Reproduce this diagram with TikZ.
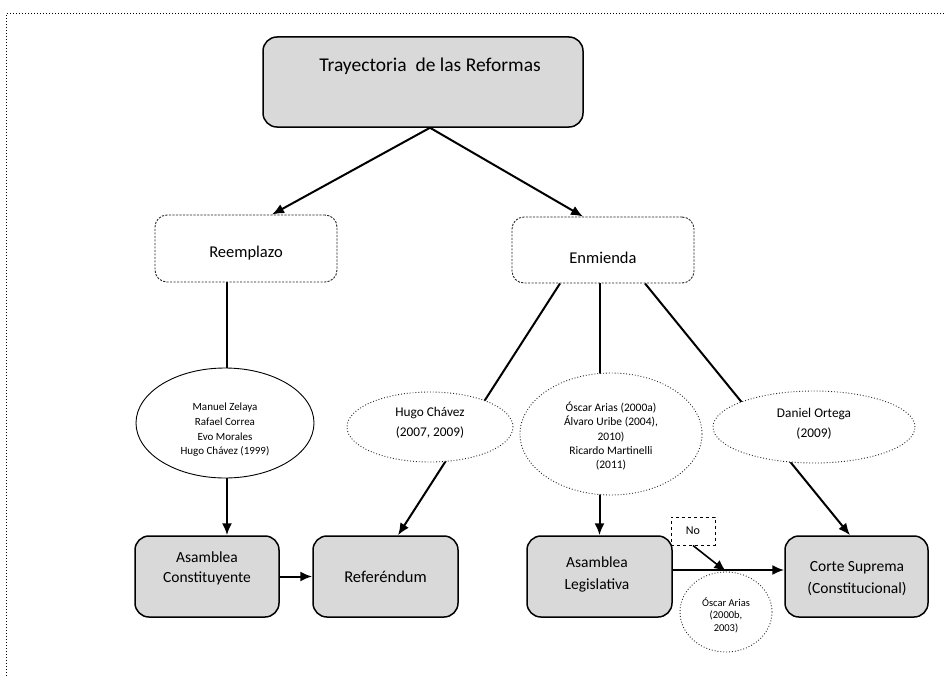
\documentclass[tikz,border=0pt]{standalone}
\usepackage{fontspec}
\setmainfont{Carlito}
\usetikzlibrary{shapes.geometric,arrows.meta,calc,backgrounds}
\begin{document}
\begin{tikzpicture}[x=1pt,y=-1pt,
  graybox/.style={draw=black,line width=1.5pt,fill=gray!30,rounded corners=14pt,inner sep=0pt},
  dashbox/.style={draw=black!85,line width=0.9pt,dash pattern=on 2.2pt off 1.3pt,rounded corners=12pt,inner sep=0pt},
  txt/.style={inner sep=0pt,align=center},
  boxtxt/.style={txt,font=\fontsize{15.5}{20}\selectfont},
  dotell/.style={ellipse,draw=black!85,line width=0.9pt,dotted,fill=white,inner sep=0pt,align=center},
  conn/.style={line width=2pt},
  arr/.style={line width=2pt,-{Latex[length=12pt,width=10pt]}}]
\useasboundingbox (0,0) rectangle (944,677);
\draw[line width=1pt,dotted] (944,14) -- (6,14) -- (6,677);
% nodes
\node[graybox,minimum width=320,minimum height=90] (title) at (423,82) {};
\node[txt,font=\fontsize{19.5}{22}\selectfont] (titletext) at (430,66) {Trayectoria~ de las Reformas};
\node[dashbox,minimum width=182,minimum height=67] (reem) at (246,248.5) {};
\node[txt,font=\fontsize{16.5}{20}\selectfont] (reemT) at (246,253) {Reemplazo};
\node[dashbox,minimum width=182,minimum height=66] (enm) at (603,250) {};
\node[txt,font=\fontsize{16.5}{20}\selectfont] (enmT) at (603,258) {Enmienda};
\node[ellipse,draw=black,line width=0.9pt,fill=white,inner sep=0pt,minimum width=178,minimum height=110] (manuel) at (225,423) {};
\node[txt,font=\fontsize{11}{14.7}\selectfont] (manuelT) at (225,430) {Manuel Zelaya\\Rafael Correa\\Evo Morales\\Hugo Chávez (1999)};
\node[dotell,minimum width=166,minimum height=70] (hugo) at (430,427) {};
\node[txt,font=\fontsize{13.3}{20.5}\selectfont] (hugoT) at (430,423) {Hugo Chávez\\(2007, 2009)};
\node[dotell,minimum width=182,minimum height=122] (oscar) at (611,434) {};
\node[txt,font=\fontsize{11.5}{14.3}\selectfont] (oscarT) at (611,436) {Óscar Arias (2000a)\\Álvaro Uribe (2004),\\2010)\\Ricardo Martinelli\\(2011)};
\node[dotell,minimum width=202,minimum height=72] (daniel) at (814,427) {};
\node[txt,font=\fontsize{13.3}{20}\selectfont] (danielT) at (814,424) {Daniel Ortega\\(2009)};
\node[graybox,minimum width=144,minimum height=81] (acons) at (207,576.5) {};
\node[boxtxt] (aconsT) at (207,568) {Asamblea\\Constituyente};
\node[graybox,minimum width=145,minimum height=81] (ref) at (385.5,576.5) {};
\node[txt,font=\fontsize{16.5}{20}\selectfont] (refT) at (385.5,577) {Referéndum};
\node[graybox,minimum width=145,minimum height=81] (aleg) at (599.5,576.5) {};
\node[txt,font=\fontsize{15.5}{22}\selectfont] (alegT) at (597,574) {Asamblea\\Legislativa};
\node[graybox,minimum width=143,minimum height=81] (corte) at (856.5,576.5) {};
\node[txt,font=\fontsize{15.5}{22}\selectfont] (corteT) at (857,579) {Corte Suprema\\(Constitucional)};
\node[draw=black,line width=1pt,dashed,minimum width=44,minimum height=28,inner sep=0pt,font=\fontsize{12}{14}\selectfont] (no) at (693,531) {No};
\node[dotell,minimum width=92,minimum height=80] (small) at (726,612) {};
\node[txt,font=\fontsize{10.5}{12.5}\selectfont] (smallT) at (726,615) {Óscar Arias\\(2000b,\\2003)};
% connectors
\begin{scope}[on background layer]
\draw[arr] (titletext |- title.south) -- ($(reem.north)+(26,0)$);
\draw[arr] (titletext |- title.south) -- ($(enm.north)+(-20,0)$);
\draw[conn] ($(manuel.north |- reem.south)+(2,0)$) -- ($(manuel.north)+(2,0)$);
\draw[arr] ($(manuel.south)+(2,0)$) -- ($(manuel.south |- acons.north)+(2,0)$);
\draw[arr] (acons.east) -- (ref.west);
\draw[arr] ($(enm.south)+(-43,0)$) -- ($(ref.north)+(12.5,0)$);
\draw[arr] (aleg.north |- enm.south) -- (aleg.north);
\draw[arr] ($(enm.south)+(42,0)$) -- ($(corte.north)+(-6.5,0)$);
\coordinate (hl) at ($(aleg.east)+(0,-6.5)$);
\draw[arr] (hl) -- (corte.west |- hl);
\end{scope}
\draw[arr,line width=1.6pt] (no.south) -- (small.north);
\end{tikzpicture}
\end{document}
